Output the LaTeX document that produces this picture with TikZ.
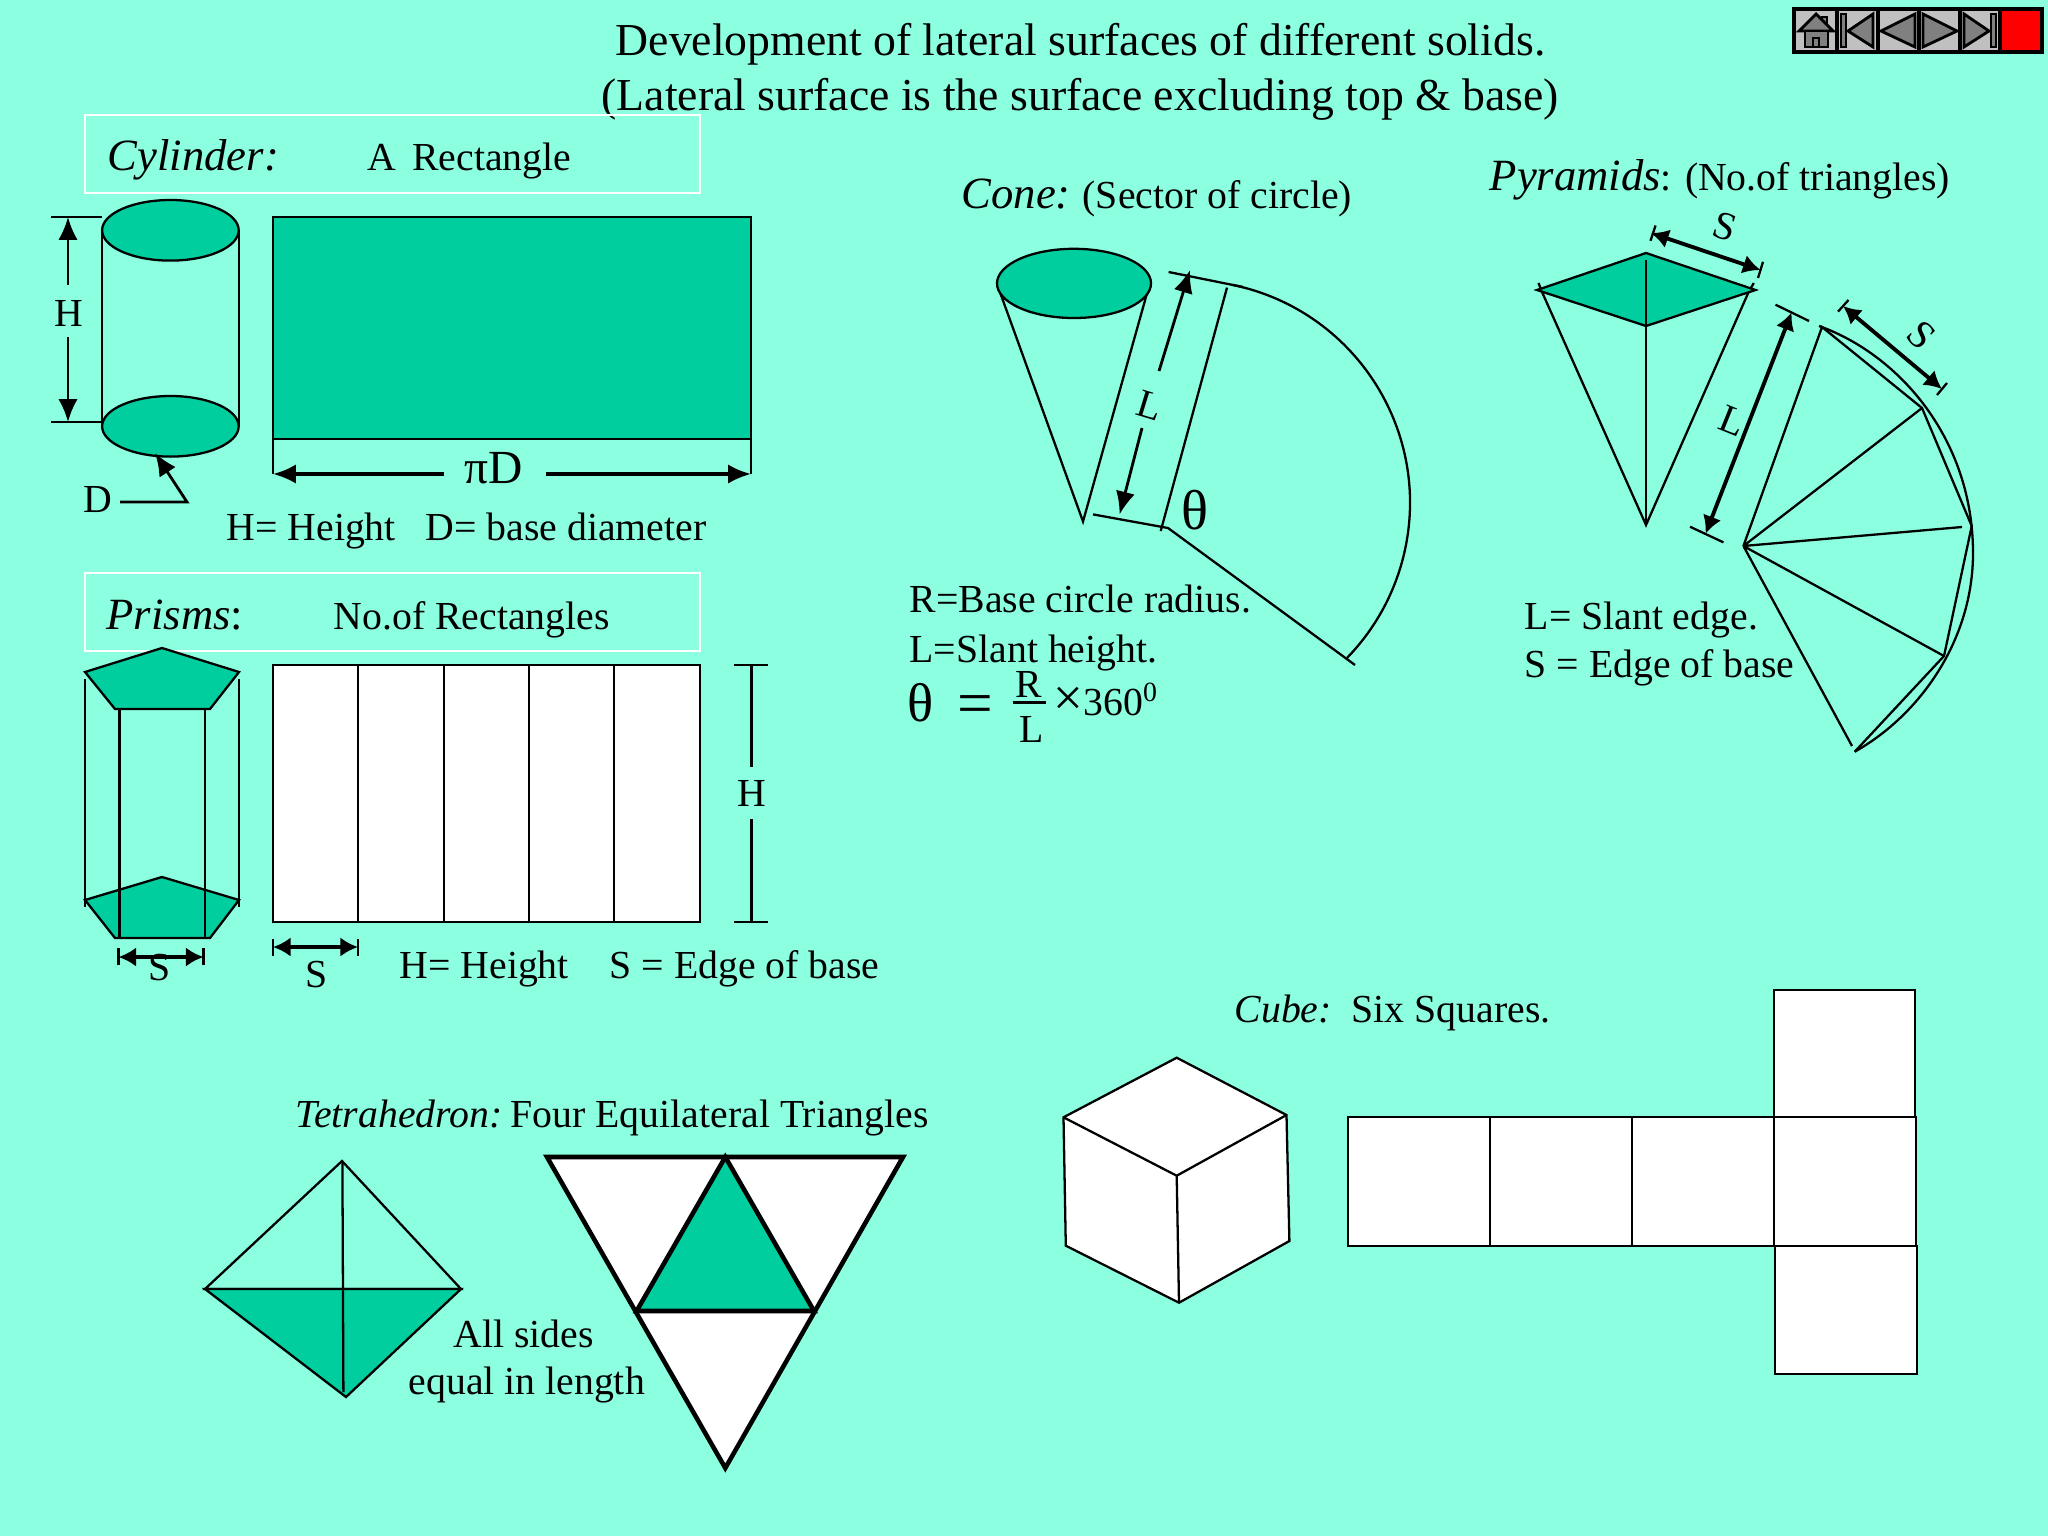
\documentclass[tikz,border=0pt]{standalone}
\usepackage{fontspec}
\setmainfont{Liberation Serif}
\usetikzlibrary{arrows.meta}
\definecolor{slide}{RGB}{140,255,224}
\definecolor{solidgreen}{RGB}{0,206,158}
\definecolor{navlight}{RGB}{192,192,192}
\definecolor{navdark}{RGB}{128,128,128}
\tikzset{
  edgeline/.style={draw=black,line width=.65pt},
  heavyline/.style={draw=black,line width=1.3pt,line join=miter},
  titlebox/.style={draw=white,line width=.5pt},
  dimarrow/.style={line width=.8pt,-{Latex[length=6.5pt,width=5.5pt]}},
  dimboth/.style={line width=1.1pt,{Latex[length=5pt,width=5.5pt]}-{Latex[length=5pt,width=5.5pt]}},
  navbutton/.style={fill=navlight,draw=black,line width=1.2pt},
  navicon/.style={fill=navdark,draw=black,line width=.8pt},
  word/.style={anchor=base west,inner sep=0pt,font=\fontsize{11.3}{12}\selectfont},
  headword/.style={anchor=base west,inner sep=0pt,font=\fontsize{12.7}{13}\selectfont\itshape},
  bigword/.style={anchor=base west,inner sep=0pt,font=\fontsize{13}{14}\selectfont}
}
\begin{document}
\begin{tikzpicture}[x=.01cm,y=-.01cm]

  \useasboundingbox (0,0) rectangle (2048,1536);
  \fill[slide] (0,0) rectangle (2048,1536);

  \begin{scope}[every node/.style={bigword}]
    \node (title1) at (615,55)  {Development of lateral surfaces of different solids.};
    \node (title2) at (601,110) {(Lateral surface is the surface excluding top \& base)};
  \end{scope}

  \draw[navbutton] (1794,9) rectangle (1837,52);
  \draw[navbutton] (1837,9) rectangle (1878,52);
  \draw[navbutton] (1878,9) rectangle (1919,52);
  \draw[navbutton] (1919,9) rectangle (1960,52);
  \draw[navbutton] (1960,9) rectangle (2000,52);
  \draw[black,fill=red,line width=1.2pt] (2000,9) rectangle (2042,52);
  \draw[navicon] (1822,17) rectangle (1827,24);
  \draw[navicon] (1799,31) -- (1816,14) -- (1833,31) -- cycle;
  \draw[navicon] (1805,31) rectangle (1828,47);
  \draw[navicon] (1813,38) rectangle (1819,47);
  \draw[navicon] (1841,14) rectangle (1846,47);
  \draw[navicon] (1848,31) -- (1873,14) -- (1873,47) -- cycle;
  \draw[navicon] (1881,31) -- (1915,14) -- (1915,47) -- cycle;
  \draw[navicon] (1923,14) -- (1923,47) -- (1957,31) -- cycle;
  \draw[navicon] (1964,14) -- (1964,47) -- (1989,31) -- cycle;
  \draw[navicon] (1991,14) rectangle (1996,47);

  \draw[titlebox] (85,115) rectangle (700,193);
  \draw[titlebox] (85,573) rectangle (700,651);

  \begin{scope}[every node/.style={word}]
    \node (height1) at (226,540) {H= Height};
    \node (diam)    at (425,540) {D= base diameter};
    \node (cylnet)  at (367,170) {A\hspace{.4em}Rectangle};
    \node (prnet)   at (333,629) {No.of Rectangles};
    \node (height2) at (399,978) {H= Height};
    \node (edge1)   at (609,978) {S = Edge of base};
    \node (conenet)  at (1082,208) {(Sector of circle)};
    \node (radius)   at (909,612) {R=Base circle radius.};
    \node (slant)    at (909,662) {L=Slant height.};
    \node (pyrnet)   at (1660,190) {: (No.of triangles)};
    \node (slant2)   at (1524,629) {L= Slant edge.};
    \node (edge2)    at (1524,677) {S = Edge of base};
    \node (tetname)  at (295,1127) {\itshape Tetrahedron:};
    \node (tetnet)   at (510,1127) {Four Equilateral Triangles};
    \node (sides)    at (453,1347) {All sides};
    \node (equal)    at (408,1394) {equal in length};
    \node (cubename) at (1234,1022) {\itshape Cube:};
    \node (cubenet)  at (1351,1022) {Six Squares.};
  \end{scope}

  \begin{scope}[every node/.style={headword}]
    \node (cylname)  at (107,170)  {Cylinder:};
    \node (prname)   at (106,629)  {Prisms\upshape:};
    \node (conename) at (961,208)  {Cone:};
    \node (pyrname)  at (1489,190) {Pyramids};
  \end{scope}

  \draw[edgeline] (102,230) -- (102,426) (239,230) -- (239,426);
  \draw[edgeline,fill=solidgreen] (170.4,230.3) ellipse [x radius=68.3,y radius=30.3];
  \draw[edgeline,fill=solidgreen] (170.4,426.3) ellipse [x radius=68.3,y radius=30.3];
  \draw[edgeline] (51,217) -- (102,217) (51,422) -- (102,422);
  \node[word,anchor=center] (cylh) at (69,313) {H};
  \draw[dimarrow] (68,285) -- (68,217);
  \draw[dimarrow] (68,337) -- (68,422);
  \node[word,anchor=center] (cyld) at (98,500) {D};
  \draw[dimarrow] (120,502) -- (187,502) -- (155,453);
  \draw[edgeline,fill=solidgreen] (273,217) rectangle (751,439);
  \draw[edgeline] (273,439) -- (273,474) (751,439) -- (751,474);
  \node[word,anchor=center,font=\fontsize{13.5}{14}\selectfont] (pid) at (494,468) {πD};
  \draw[dimarrow,line width=1pt] (444,474) -- (273,474);
  \draw[dimarrow,line width=1pt] (546,474) -- (751,474);

  \draw[edgeline] (85,679) -- (85,907) (239,679) -- (239,907);
  \draw[edgeline,fill=solidgreen] (162,648) -- (239,672) -- (210,709) -- (115,709) -- (85,672) -- cycle;
  \draw[edgeline,fill=solidgreen] (162,877) -- (239,900) -- (210,938) -- (115,938) -- (85,900) -- cycle;
  \draw[edgeline] (119.5,709) -- (119.5,938) (205,709) -- (205,938);
  \draw[edgeline] (118.5,948) -- (118.5,965) (203.5,948) -- (203.5,965);
  \draw[dimboth] (118.5,957) -- (203.5,957);
  \node[word,anchor=center] (prs1) at (160,968) {S};
  \draw[edgeline,fill=white] (273,665) rectangle (700,922);
  \foreach \xline in {358,444,529,614}
    \draw[edgeline] (\xline,665) -- (\xline,922);
  \draw[edgeline] (734,665) -- (768,665) (734,922) -- (768,922);
  \draw[edgeline] (751.5,665) -- (751.5,767) (751.5,819) -- (751.5,922);
  \node[word,anchor=center] (prh) at (751.5,793) {H};
  \draw[edgeline] (273,939) -- (273,956) (358,939) -- (358,956);
  \draw[dimboth] (273,947) -- (358,947);
  \node[word,anchor=center] (prs2) at (317,975) {S};

  \draw[edgeline] (999,289.5) -- (1083,521.5) -- (1147.5,291.5);
  \draw[edgeline,fill=solidgreen] (1074,283.4) ellipse [x radius=77,y radius=34.6];
  \draw[edgeline] (1168.6,272) -- (1243,287);
  \draw[edgeline] (1093,514.4) -- (1168,528) -- (1355,665);
  \draw[edgeline] (1227,287.6) -- (1160.7,531);
  \draw[edgeline] (1233,285) arc [start angle=-78.2,end angle=44.2,radius=222.5];
  \draw[dimarrow] (1159,371) -- (1190,270);
  \draw[dimarrow] (1142,428) -- (1119.6,514.4);
  \node[word,anchor=center,rotate=-17] (conel) at (1150,406) {L};
  \node[word,anchor=center,font=\fontsize{16}{16}\selectfont] (conetheta) at (1195,510) {θ};
  \node[word,anchor=center,font=\fontsize{15.5}{16}\selectfont] (eqtheta) at (921,703) {θ};
  \node[word,anchor=center,font=\fontsize{18}{18}\selectfont] (eqsign) at (975,710) {=};
  \node[word,anchor=center] (fracr) at (1029,684) {R};
  \node[word,anchor=center] (fracl) at (1032,729) {L};
  \draw[line width=.9pt] (1012.5,702.7) -- (1046.4,702.7);
  \node[word] (times) at (1053,715) {{\fontsize{15}{15}\selectfont×}360\textsuperscript{0}};

  \draw[edgeline] (1538.5,283) -- (1542,292) -- (1646,525) -- (1748.6,292) -- (1753.8,283);
  \draw[edgeline,fill=solidgreen] (1646,253) -- (1755.5,290) -- (1646,326) -- (1537,290) -- cycle;
  \draw[edgeline] (1646,260) -- (1646,525);
  \draw[edgeline] (1655.6,225.5) -- (1650.5,240.8) (1763,261.8) -- (1758,278);
  \draw[dimboth] (1651,233) -- (1760.6,270);
  \node[word,anchor=center,rotate=-18] (pyrs1) at (1724.5,227) {S};
  \draw[edgeline] (1775.5,304.7) -- (1809,321) (1690,526.7) -- (1723.5,542.4);
  \draw[dimboth] (1791.6,312.4) -- (1705.6,533.6);
  \node[word,anchor=center,rotate=-22] (pyrl) at (1733,421) {L};
  \draw[edgeline] (1743.4,546) -- (1822,327) -- (1922,408) -- (1971.7,526) -- (1944,656) -- (1854.7,751.7);
  \draw[edgeline] (1743.4,546) -- (1922,408) (1743.4,546) -- (1962,527) (1743.4,546) -- (1944,656) (1743.4,546) -- (1852,746);
  \draw[edgeline] (1819,326) .. controls (1900,355) and (1973,440) .. (1973,553)
    .. controls (1973,640) and (1920,715) .. (1854.7,751.7);
  \draw[edgeline] (1848.5,300) -- (1838,311.6) (1947,383) -- (1937,395);
  \draw[dimboth] (1843,306) -- (1942,389);
  \node[word,anchor=center,rotate=-45] (pyrs2) at (1921,335) {S};

  \draw[edgeline] (205,1289) -- (342,1161) -- (461,1289) -- cycle;
  \draw[edgeline,fill=solidgreen] (205,1289) -- (461,1289) -- (346,1397) -- cycle;
  \draw[edgeline] (342.4,1161) -- (343.4,1392);
  \draw[heavyline,fill=white] (547,1157) -- (903,1157) -- (725.3,1468) -- cycle;
  \draw[heavyline,fill=solidgreen] (725.3,1157) -- (814,1311) -- (636.6,1311) -- cycle;

  \draw[edgeline,fill=white] (1176.7,1057.7) -- (1286.5,1115) -- (1289.4,1241) -- (1179,1302.7) -- (1065.8,1245.7) -- (1063.5,1117.3) -- cycle;
  \draw[edgeline] (1063.5,1117.3) -- (1176.7,1175.7) -- (1286.5,1115) (1176.7,1175.7) -- (1179,1302.7);
  \begin{scope}[every path/.style={edgeline,fill=white}]
    \path (1348,1117) rectangle (1490,1246);
    \path (1490,1117) rectangle (1632,1246);
    \path (1632,1117) rectangle (1774,1246);
    \path (1774,1117) rectangle (1916,1246);
    \path (1774,990)  rectangle (1915,1117);
    \path (1775,1246) rectangle (1917,1374);
  \end{scope}

\end{tikzpicture}
\end{document}
